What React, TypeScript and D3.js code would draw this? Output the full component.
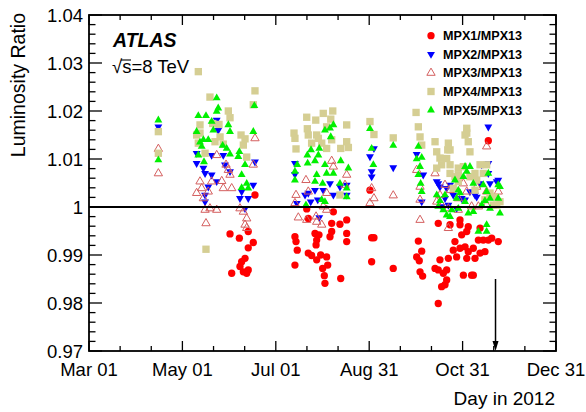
import React from "react";
import * as d3 from "d3";

// Day of year 2012 (Mar 01 = 61, Dec 31 = 366) and luminosity ratio
const mpx1: [number, number][] = [
  [169.4, 1.0025], [153.1, 0.9944], [159.2, 0.9935], [168.3, 0.9926], [165.0, 0.9915], [162.9, 0.9893], [160.7, 0.9886], [159.6, 0.9876], [154.2, 0.9862], [161.8, 0.9865], [164.0, 0.9862], [165.0, 0.9869], [165.0, 0.9949],
  [203.2, 0.9996], [220.6, 0.999], [204.2, 0.9976], [229.3, 0.9973], [219.5, 0.9966], [224.9, 0.9964], [208.6, 0.9945], [211.2, 0.9942], [219.5, 0.9949], [218.4, 0.9938], [229.3, 0.9945], [195.5, 0.9938], [196.2, 0.9928], [209.7, 0.9931], [209.3, 0.9921], [229.3, 0.9928], [197.0, 0.991], [204.2, 0.9904], [206.4, 0.9899], [212.3, 0.99], [216.2, 0.9896], [209.7, 0.989], [216.9, 0.9879], [213.6, 0.9872], [195.5, 0.9879], [214.7, 0.9857], [225.4, 0.9851], [215.1, 0.9841],
  [244.5, 1.0035], [245.6, 0.9936], [247.1, 0.9936], [245.6, 0.9886], [259.7, 0.9872], [276.1, 0.9929], [278.3, 0.9908], [275.0, 0.9896], [276.7, 0.9888], [277.2, 0.9865], [278.9, 0.9856],
  [321.8, 1.0138], [289.1, 0.9966], [296.8, 0.9963], [303.3, 0.9963], [308.7, 0.9959], [307.7, 0.9949], [321.8, 0.9931], [324.0, 0.9935], [328.3, 0.9928], [315.3, 0.9931], [304.4, 0.9942], [300.0, 0.9928], [306.6, 0.9917], [303.3, 0.9914], [298.9, 0.991], [308.7, 0.9907], [319.6, 0.9907], [290.2, 0.989], [295.7, 0.9893], [301.1, 0.9896], [307.7, 0.9893], [313.1, 0.9893], [294.6, 0.9869], [289.1, 0.9869], [287.0, 0.9872], [292.4, 0.9862], [305.5, 0.9858], [312.0, 0.9858], [294.6, 0.9848], [293.5, 0.9838], [289.1, 0.9799], [303.3, 0.9973], [316.4, 0.9956], [318.5, 0.9931], [312.0, 0.9914], [316.4, 0.9904], [310.9, 0.9858], [291.3, 0.9834],
];

const mpx2: [number, number][] = [
  [106.3, 1.0167], [144.4, 1.0181], [145.4, 1.016], [131.3, 1.0112], [141.1, 1.0108], [148.7, 1.0108], [131.3, 1.0091], [135.7, 1.0081], [136.8, 1.007], [141.1, 1.0067], [144.4, 1.0053], [149.8, 1.0088], [153.1, 1.0074], [138.9, 1.0042], [136.8, 1.0025], [136.8, 1.0011], [169.4, 1.0094], [168.3, 1.0046], [159.6, 1.0018], [165.0, 1.0018], [162.9, 0.9997], [160.7, 1.0032],
  [195.5, 1.0091], [195.5, 1.0068], [204.2, 1.0029], [202.1, 1.0025], [208.6, 1.0035], [205.8, 1.0011], [210.4, 1.0015], [214.0, 1.0035], [218.4, 1.0049], [220.6, 1.0025], [229.3, 1.0046], [224.9, 1.0042], [196.7, 1.0008], [211.4, 0.9978], [229.3, 1.0025],
  [247.1, 1.0122], [244.5, 1.0105], [245.6, 1.0074], [245.6, 1.0063], [259.7, 1.0082], [275.0, 1.011], [279.3, 1.0067], [278.3, 1.0011],
  [321.8, 1.0167], [289.1, 1.0049], [290.2, 1.0042], [296.8, 1.0046], [317.5, 1.0088], [321.8, 1.007], [316.4, 1.0049], [322.9, 1.0049], [327.3, 1.0053], [293.5, 1.0018], [298.9, 1.0025], [306.6, 1.0015], [313.1, 1.0025], [295.7, 1.0004], [301.1, 0.9997], [288.1, 1.0053], [321.8, 1.0091], [328.3, 1.0056], [309.8, 1.0032], [294.6, 1.0039], [291.3, 1.0001], [304.4, 1.0018], [314.2, 1.0021],
];

const mpx3: [number, number][] = [
  [106.3, 1.0121], [106.3, 1.007], [144.4, 1.0108], [150.5, 1.0088], [152.0, 1.0077], [153.1, 1.0067], [133.5, 1.0053], [141.1, 1.0053], [147.7, 1.0054], [134.6, 1.0039], [131.3, 1.0029], [138.9, 1.0032], [148.7, 1.0039], [154.2, 1.0039], [135.7, 1.0018], [136.8, 0.9994], [140.0, 0.9997], [144.4, 0.9994], [137.4, 0.9966], [168.3, 1.0088], [169.4, 1.0143], [161.8, 0.999], [164.0, 0.9976], [162.9, 0.9963], [164.0, 0.9956], [159.6, 0.9997],
  [219.5, 1.0096], [220.6, 1.0084], [229.3, 1.0067], [202.7, 1.0056], [196.2, 1.0025], [195.5, 1.0008], [204.2, 1.0032], [216.2, 1.0029], [214.0, 1.0001], [216.2, 0.9994], [197.7, 0.9978], [203.2, 0.9973], [209.3, 0.998], [209.7, 0.9969], [213.0, 0.9963], [228.2, 1.0046],
  [245.6, 1.0039], [247.1, 1.0018], [244.5, 1.0008], [259.7, 1.0024], [275.0, 1.0077], [277.2, 1.0042], [277.2, 1.0015], [277.2, 0.9973],
  [320.7, 1.0126], [287.0, 1.007], [293.5, 1.0046], [296.8, 1.0035], [305.5, 1.0049], [307.7, 1.0032], [314.2, 1.0042], [315.3, 1.0001], [302.2, 1.0018], [290.2, 1.0025], [291.3, 1.0004], [295.7, 0.9997], [302.2, 0.9994], [295.7, 0.9956], [320.7, 1.0032], [324.0, 1.0021], [328.3, 1.0032], [288.1, 1.0011], [310.9, 1.0001], [320.7, 1.0004],
];

const mpx4: [number, number][] = [
  [106.3, 1.0157], [106.3, 1.0112], [132.4, 1.0282], [137.4, 0.9912], [140.0, 1.0229], [152.0, 1.02], [153.1, 1.0186], [133.5, 1.0171], [145.9, 1.0172], [131.3, 1.015], [146.6, 1.0146], [143.3, 1.0136], [132.4, 1.0133], [148.7, 1.0131], [136.8, 1.0112], [160.3, 1.015], [162.9, 1.0142], [161.8, 1.0129], [164.0, 1.0104], [169.4, 1.0242], [168.3, 1.0213], [141.8, 1.0174], [133.5, 1.0154],
  [203.2, 1.0187], [209.1, 1.0181], [214.0, 1.0195], [220.2, 1.02], [218.9, 1.0183], [229.3, 1.0171], [194.9, 1.0154], [195.5, 1.0143], [203.6, 1.0163], [204.2, 1.015], [209.7, 1.015], [216.2, 1.0167], [210.8, 1.0143], [213.0, 1.0133], [206.4, 1.0133], [219.5, 1.014], [229.3, 1.0136], [196.2, 1.0121], [216.2, 1.0122], [225.4, 1.0122], [230.4, 1.0124], [224.9, 1.0025],
  [244.5, 1.0178], [247.1, 1.0151], [259.7, 1.0144], [274.6, 1.0197], [276.1, 1.0167], [277.2, 1.0146], [278.3, 1.0129],
  [287.0, 1.0136], [295.7, 1.0133], [296.8, 1.0119], [288.1, 1.0115], [290.2, 1.0102], [294.6, 1.0101], [291.3, 1.0088], [296.8, 1.0088], [302.2, 1.0081], [307.7, 1.0164], [306.6, 1.015], [308.7, 1.0136], [309.8, 1.0115], [305.5, 1.0084], [313.1, 1.007], [316.4, 1.0088], [320.7, 1.0088], [318.5, 1.007], [314.2, 1.0056], [296.8, 1.007], [300.0, 1.0063], [302.2, 1.0053], [326.2, 1.0021], [327.3, 1.0004], [319.6, 1.0015], [322.9, 1.0029], [298.9, 1.0039], [307.7, 1.0154], [288.1, 1.0081], [302.2, 1.0067], [309.8, 1.0063], [313.1, 1.0035], [329.4, 1.0011], [325.0, 1.0004], [295.3, 1.0119],
];

const mpx5: [number, number][] = [
  [106.3, 1.0181], [106.3, 1.0098], [144.4, 1.0227], [145.4, 1.0206], [144.4, 1.0199], [132.4, 1.019], [137.4, 1.019], [141.1, 1.0178], [152.0, 1.0171], [131.3, 1.0157], [142.2, 1.016], [153.1, 1.0157], [135.7, 1.014], [133.5, 1.0135], [138.9, 1.014], [148.3, 1.0128], [150.9, 1.0122], [132.4, 1.0108], [136.1, 1.0094], [153.1, 1.011], [169.0, 1.0211], [168.3, 1.0157], [159.2, 1.0115], [158.5, 1.0105], [162.9, 1.0088], [160.7, 1.0067], [164.0, 1.0049], [160.7, 1.004], [165.0, 1.0039], [134.6, 1.0126],
  [215.1, 1.016], [218.4, 1.0164], [220.6, 1.0171], [218.9, 1.0146], [211.4, 1.0122], [206.0, 1.0119], [203.6, 1.0108], [210.8, 1.0108], [208.6, 1.0096], [203.8, 1.0091], [197.0, 1.0088], [195.5, 1.0074], [195.5, 1.0056], [215.1, 1.0088], [225.4, 1.0096], [230.4, 1.0081], [209.7, 1.0067], [216.2, 1.007], [208.6, 1.0053], [213.6, 1.0049], [220.6, 1.007], [224.9, 1.0049], [229.3, 1.0039], [229.3, 1.0021], [213.0, 1.0015], [215.1, 1.0011], [202.7, 1.0004],
  [244.5, 1.0163], [245.6, 1.0122], [246.7, 1.0088], [259.7, 1.0128], [276.1, 1.0126], [278.3, 1.0103], [275.0, 1.01], [277.2, 1.0084], [276.1, 1.0067], [277.6, 1.0049], [278.3, 1.0032],
  [306.6, 1.0084], [307.7, 1.0074], [309.8, 1.0084], [305.5, 1.0063], [300.0, 1.0056], [302.2, 1.0035], [303.3, 1.0029], [312.0, 1.0049], [318.5, 1.0046], [329.4, 1.0042], [320.7, 1.0032], [288.1, 1.0025], [290.2, 1.0013], [289.1, 1.0001], [292.4, 0.9994], [294.6, 0.9983], [297.9, 0.9994], [296.8, 0.998], [302.2, 0.9997], [308.7, 0.9987], [312.0, 0.999], [317.5, 1.0004], [319.6, 1.0013], [322.9, 0.9997], [322.9, 1.0018], [328.3, 1.0018], [329.4, 0.9987], [320.7, 0.9963], [320.7, 0.9949], [315.3, 0.9949], [306.6, 1.0011], [293.5, 1.0025], [301.1, 1.0018], [321.8, 1.007], [328.3, 1.0046],
];

const xTickDays = [61, 122, 183, 244, 305, 366];
const xTickLabels = ["Mar 01", "May 01", "Jul 01", "Aug 31", "Oct 31", "Dec 31"];
const yTickValues = [0.97, 0.98, 0.99, 1.0, 1.01, 1.02, 1.03, 1.04];
const yTickLabels = ["0.97", "0.98", "0.99", "1", "1.01", "1.02", "1.03", "1.04"];
const legendLabels = ["MPX1/MPX13", "MPX2/MPX13", "MPX3/MPX13", "MPX4/MPX13", "MPX5/MPX13"];
const arrowDay = 326.5;
const arrowTop = 0.985;

const W = 586;
const H = 412;
const M = { left: 89, right: 556, top: 15, bottom: 351 };
const FONT = "'Liberation Sans', Arial, Helvetica, sans-serif";

const x = d3.scaleLinear().domain([61, 366]).range([M.left, M.right]);
const y = d3.scaleLinear().domain([0.97, 1.04]).range([M.bottom, M.top]);

const circlePath = d3.symbol(d3.symbolCircle, 42)()!;
const squarePath = d3.symbol(d3.symbolSquare, 54)()!;
const triPath = d3.symbol(d3.symbolTriangle, 27)()!;
const openTriPath = d3.symbol(d3.symbolTriangle, 30)()!;

type Style = { path: string; fill: string; stroke: string; sw: number; rot: number };
const styles: Style[] = [
  { path: circlePath, fill: "#ff0000", stroke: "none", sw: 0, rot: 0 },
  { path: triPath, fill: "#0000ff", stroke: "none", sw: 0, rot: 180 },
  { path: openTriPath, fill: "none", stroke: "#d45f5f", sw: 1, rot: 0 },
  { path: squarePath, fill: "#d5ce93", stroke: "none", sw: 0, rot: 0 },
  { path: triPath, fill: "#00f000", stroke: "none", sw: 0, rot: 0 },
];
const seriesList = [mpx1, mpx2, mpx3, mpx4, mpx5];

function Marker({ cx, cy, s }: { cx: number; cy: number; s: Style }) {
  return (
    <path
      d={s.path}
      transform={`translate(${cx},${cy})${s.rot ? ` rotate(${s.rot})` : ""}`}
      fill={s.fill}
      stroke={s.stroke}
      strokeWidth={s.sw}
    />
  );
}

export default function App() {
  const xMinor: number[] = [];
  for (let i = 0; i < xTickDays.length - 1; i++) {
    const a = xTickDays[i];
    const step = (xTickDays[i + 1] - a) / 3;
    xMinor.push(a + step, a + 2 * step);
  }
  const yMinor = d3.range(0, 36).map((i) => 0.97 + i * 0.002).filter((v, i) => i % 5 !== 0);

  return (
    <svg
      width={W}
      height={H}
      style={{ position: "absolute", left: 0, top: 0, background: "#fff" }}
      fontFamily={FONT}
    >
      <rect x={0} y={0} width={W} height={H} fill="#fff" />
      {seriesList.map((ser, si) => (
        <g key={si}>
          {ser.map((d, i) => (
            <Marker key={i} cx={x(d[0])} cy={y(d[1])} s={styles[si]} />
          ))}
        </g>
      ))}
      <line x1={M.left} x2={M.right} y1={y(1)} y2={y(1)} stroke="#000" strokeWidth={1.8} />
      <line x1={x(arrowDay)} x2={x(arrowDay)} y1={y(arrowTop)} y2={M.bottom - 8} stroke="#000" strokeWidth={1.5} />
      <path
        d={`M${x(arrowDay) - 3},${M.bottom - 10} L${x(arrowDay) + 3},${M.bottom - 10} L${x(arrowDay)},${M.bottom} Z`}
        fill="#000"
      />
      <rect x={M.left} y={M.top} width={M.right - M.left} height={M.bottom - M.top} fill="none" stroke="#000" strokeWidth={1.8} />
      {xTickDays.map((d) => (
        <g key={"xm" + d}>
          <line x1={x(d)} x2={x(d)} y1={M.bottom} y2={M.bottom - 10} stroke="#000" strokeWidth={1.3} />
          <line x1={x(d)} x2={x(d)} y1={M.top} y2={M.top + 10} stroke="#000" strokeWidth={1.3} />
        </g>
      ))}
      {xMinor.map((d) => (
        <g key={"xn" + d}>
          <line x1={x(d)} x2={x(d)} y1={M.bottom} y2={M.bottom - 5} stroke="#000" strokeWidth={1.3} />
          <line x1={x(d)} x2={x(d)} y1={M.top} y2={M.top + 5} stroke="#000" strokeWidth={1.3} />
        </g>
      ))}
      {xTickDays.map((d, i) => (
        <text key={"xl" + d} x={x(d)} y={376} textAnchor="middle" fontSize={18.5} fill="#000">
          {xTickLabels[i]}
        </text>
      ))}
      {yTickValues.map((v) => (
        <g key={"ym" + v}>
          <line x1={M.left} x2={M.left + 13} y1={y(v)} y2={y(v)} stroke="#000" strokeWidth={1.3} />
          <line x1={M.right} x2={M.right - 13} y1={y(v)} y2={y(v)} stroke="#000" strokeWidth={1.3} />
        </g>
      ))}
      {yMinor.map((v) => (
        <g key={"yn" + v}>
          <line x1={M.left} x2={M.left + 6.5} y1={y(v)} y2={y(v)} stroke="#000" strokeWidth={1.3} />
          <line x1={M.right} x2={M.right - 6.5} y1={y(v)} y2={y(v)} stroke="#000" strokeWidth={1.3} />
        </g>
      ))}
      {yTickValues.map((v, i) => (
        <text key={"yl" + v} x={83} y={y(v) + 6.5} textAnchor="end" fontSize={18.5} fill="#000">
          {yTickLabels[i]}
        </text>
      ))}
      <text x={555} y={405} textAnchor="end" fontSize={19} fill="#000">
        Day in 2012
      </text>
      <text transform="translate(25,13) rotate(-90)" textAnchor="end" fontSize={19.5} fill="#000">
        Luminosity Ratio
      </text>
      <text x={113} y={47} fontSize={19.5} fontWeight="bold" fontStyle="italic" fill="#000">
        ATLAS
      </text>
      <text x={112} y={73} fontSize={18.5} fill="#000">
        √s=8 TeV
      </text>
      <line x1={121} x2={131} y1={60} y2={60} stroke="#000" strokeWidth={1.1} />
      {legendLabels.map((lab, i) => {
        const cy = 35.7 + i * 18.6;
        return (
          <g key={lab}>
            <Marker cx={431} cy={cy} s={styles[i]} />
            <text x={443} y={cy + 4.5} fontSize={12.6} fontWeight="bold" fill="#000">
              {lab}
            </text>
          </g>
        );
      })}
    </svg>
  );
}
